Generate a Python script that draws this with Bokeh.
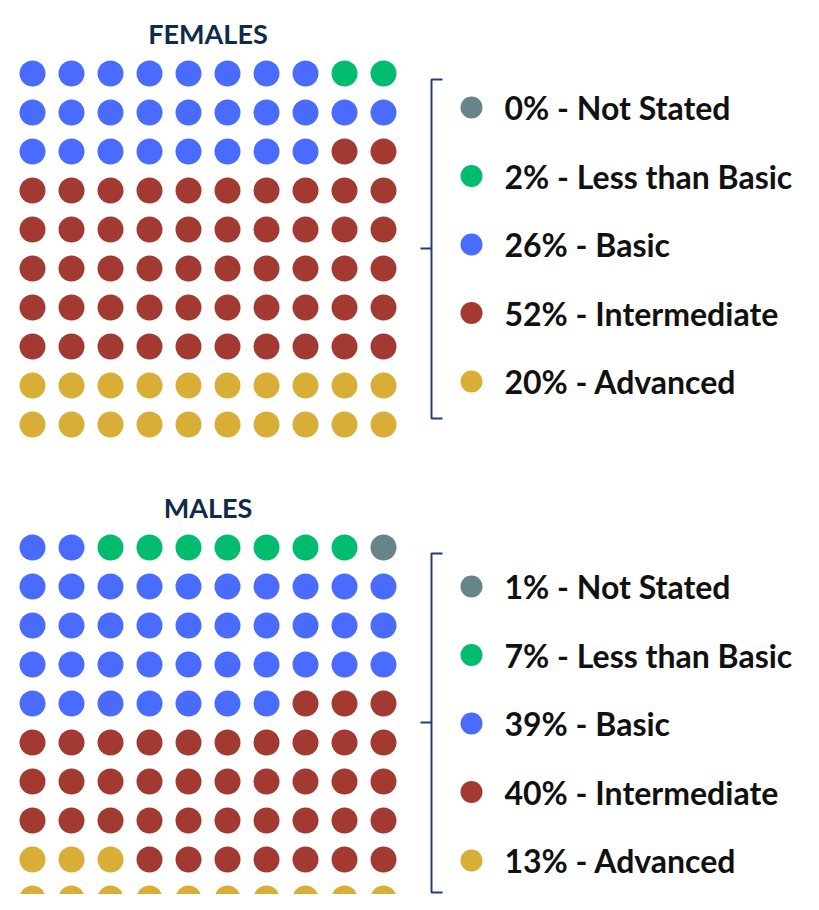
from bokeh.plotting import figure
from bokeh.models import Range1d, ColumnDataSource
from bokeh.core.properties import value
from bokeh.embed import file_html
from bokeh.resources import INLINE

# ---- data ----
categories = ["Not Stated", "Less than Basic", "Basic", "Intermediate", "Advanced"]
females_pct = [0, 2, 26, 52, 20]
males_pct = [1, 7, 39, 40, 13]
panel_titles = ["FEMALES", "MALES"]
colors = ["#678489", "#00BC6E", "#4A6BFF", "#A33A31", "#D8AE36"]

# ---- layout (page-pixel coordinates) ----
W, H = 803, 894
GRID_X0 = 32
PITCH = 39
DOT_R = 13
ROW_LTR = [True, True, False, True, False, True, True, True, True, True]  # fill direction per row (top->bottom)
panels = [
    dict(title_y=33, grid_y0=73, leg_y0=107, br_top=79, br_bot=418, br_mid=248),
    dict(title_y=507, grid_y0=547, leg_y0=586, br_top=553, br_bot=892, br_mid=722),
]
LEG_STEP = 68.5
LEG_DOT_X = 471
LEG_TEXT_X = 504
BR_X = 431

p = figure(width=W, height=H, output_backend="svg", toolbar_location=None,
           x_range=Range1d(0, W), y_range=Range1d(H, 0),
           min_border=0, outline_line_color=None)
p.axis.visible = False
p.grid.visible = False
p.background_fill_color = "white"
p.border_fill_color = "white"


def waffle_cells(pcts):
    # fill from the bottom row upward, Advanced first
    seq = []
    for cat_i in reversed(range(len(categories))):
        seq += [cat_i] * pcts[cat_i]
    xs, ys, cs = [], [], []
    for k, cat_i in enumerate(seq):
        row = 9 - k // 10
        pos = k % 10
        col = pos if ROW_LTR[row] else 9 - pos
        xs.append(col)
        ys.append(row)
        cs.append(colors[cat_i])
    return xs, ys, cs


for pct, title, lay in zip([females_pct, males_pct], panel_titles, panels):
    cols, rows, cs = waffle_cells(pct)
    src = ColumnDataSource(dict(
        x=[GRID_X0 + c * PITCH for c in cols],
        y=[lay["grid_y0"] + r * PITCH for r in rows],
        color=cs))
    p.circle("x", "y", radius=DOT_R, fill_color="color", line_color=None, source=src)

    p.text(x=[GRID_X0 + 4.5 * PITCH], y=[lay["title_y"]], text=[title],
           text_font=value("Lato"), text_font_style="bold", text_font_size="27px",
           text_color="#0F2A4A", text_align="center", text_baseline="middle")

    # bracket
    p.line([BR_X + 11, BR_X, BR_X, BR_X + 11],
           [lay["br_top"], lay["br_top"], lay["br_bot"], lay["br_bot"]],
           line_color="#1F3F78", line_width=2)
    p.line([BR_X - 11, BR_X], [lay["br_mid"], lay["br_mid"]],
           line_color="#1F3F78", line_width=2)

    ly = [lay["leg_y0"] + i * LEG_STEP for i in range(len(categories))]
    p.circle([LEG_DOT_X] * len(categories), ly, radius=11, fill_color=colors, line_color=None)
    labels = [f"{v}% - {c}" for v, c in zip(pct, categories)]
    p.text(x=[LEG_TEXT_X] * len(categories), y=ly, text=labels,
           text_font=value("Lato"), text_font_style="bold", text_font_size="32px",
           text_color="#111111", text_align="left", text_baseline="middle")

open("out.html", "w").write(file_html(p, INLINE))
